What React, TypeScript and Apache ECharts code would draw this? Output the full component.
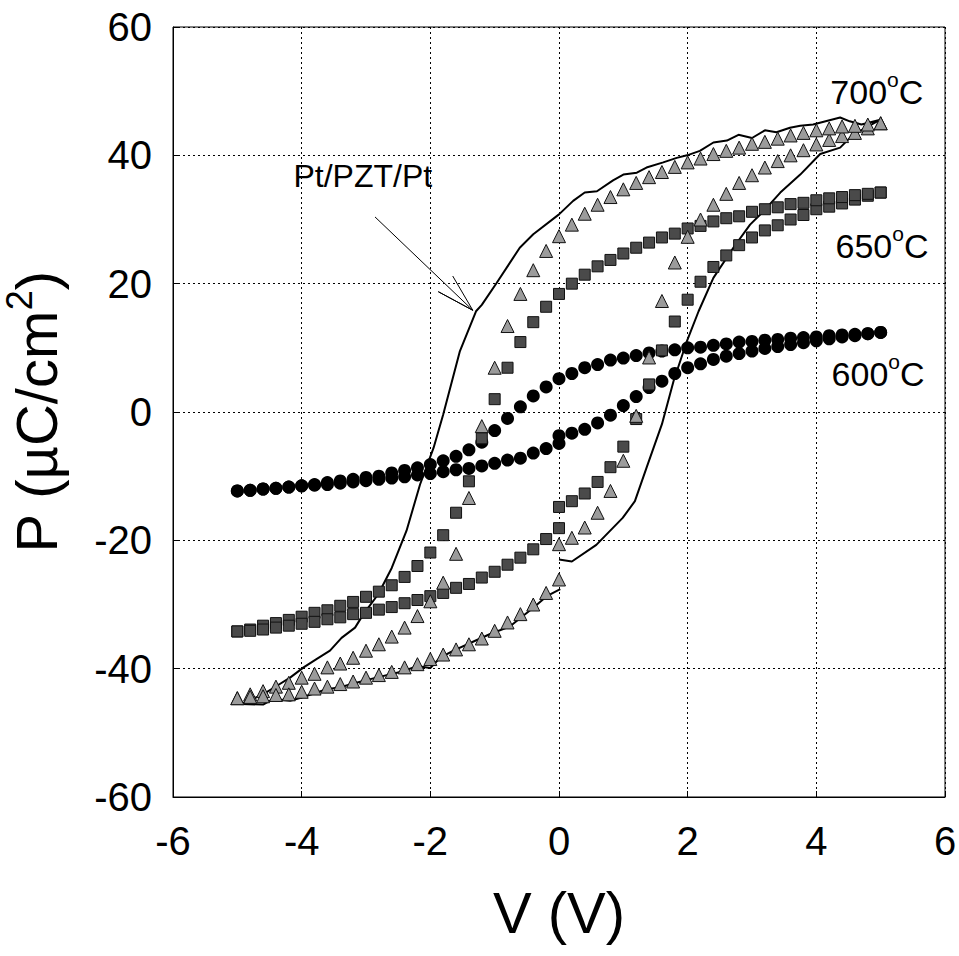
import React, { useEffect, useRef } from "react";
import * as echarts from "echarts";

// Voltage sweeps (V): 0 -> +5, +5 -> -5, -5 -> 0
const V_RISE = [0, 0.2, 0.4, 0.6, 0.8, 1.0, 1.2, 1.4, 1.6, 1.8, 2.0, 2.2, 2.4, 2.6, 2.8, 3.0, 3.2, 3.4, 3.6, 3.8, 4.0, 4.2, 4.4, 4.6, 4.8, 5.0];
const V_FALL = [5.0, 4.8, 4.6, 4.4, 4.2, 4.0, 3.8, 3.6, 3.4, 3.2, 3.0, 2.8, 2.6, 2.4, 2.2, 2.0, 1.8, 1.6, 1.4, 1.2, 1.0, 0.8, 0.6, 0.4, 0.2, 0,
  -0.2, -0.4, -0.6, -0.8, -1.0, -1.2, -1.4, -1.6, -1.8, -2.0, -2.2, -2.4, -2.6, -2.8, -3.0, -3.2, -3.4, -3.6, -3.8, -4.0, -4.2, -4.4, -4.6, -4.8, -5.0];
const V_RETURN = [-5.0, -4.8, -4.6, -4.4, -4.2, -4.0, -3.8, -3.6, -3.4, -3.2, -3.0, -2.8, -2.6, -2.4, -2.2, -2.0, -1.8, -1.6, -1.4, -1.2, -1.0, -0.8, -0.6, -0.4, -0.2, 0];

// 600 C (circles), P in uC/cm2
const P600_RISE = [-3.7, -3.3, -2.7, -1.7, -0.5, 1.0, 2.4, 3.8, 4.8, 6.0, 6.9, 7.5, 8.2, 8.7, 9.1, 9.5, 9.9, 10.2, 10.5, 10.8, 11.1, 11.4, 11.7, 11.9, 12.2, 12.4];
const P600_FALL = [12.4, 12.2, 12.1, 12.0, 11.9, 11.7, 11.6, 11.5, 11.3, 11.2, 11.0, 10.9, 10.6, 10.4, 10.1, 10.0, 9.7, 9.5, 9.2, 8.8, 8.4, 8.1, 7.4, 6.9, 6.0, 5.2,
  3.9, 2.5, 0.8, -1.0, -2.9, -4.7, -5.9, -6.9, -7.6, -8.2, -8.7, -9.1, -9.5, -10.0, -10.2, -10.5, -10.75, -11.0, -11.3, -11.5, -11.7, -11.9, -12.0, -12.2, -12.3];
const P600_RETURN = [-12.3, -12.2, -12.0, -11.9, -11.7, -11.5, -11.4, -11.3, -11.1, -10.9, -10.7, -10.5, -10.3, -10.1, -9.8, -9.6, -9.3, -9.0, -8.8, -8.4, -8.0, -7.5, -7.2, -6.4, -5.7, -4.9];

// 650 C (squares)
const P650_RISE = [-14.8, -13.9, -12.7, -10.9, -8.6, -5.4, -1.1, 4.3, 9.6, 14.1, 17.5, 20.3, 22.6, 24.4, 26.0, 27.2, 28.3, 29.1, 30.0, 30.7, 31.6, 32.0, 32.5, 33.1, 33.7, 34.2];
const P650_FALL = [34.2, 34.0, 33.8, 33.5, 33.3, 33.0, 32.6, 32.4, 31.9, 31.6, 31.2, 30.5, 30.2, 29.7, 29.0, 28.6, 27.8, 27.2, 26.4, 25.6, 24.7, 23.7, 22.7, 21.4, 20.0, 18.4,
  16.4, 14.0, 10.9, 6.9, 2.0, -4.1, -10.8, -15.7, -19.2, -21.9, -24.0, -25.7, -27.0, -28.0, -28.8, -29.6, -30.2, -30.9, -31.3, -31.9, -32.4, -32.9, -33.3, -33.9, -34.2];
const P650_RETURN = [-34.2, -34.1, -33.9, -33.6, -33.3, -33.0, -32.7, -32.3, -32.0, -31.5, -31.3, -30.8, -30.4, -29.8, -29.3, -28.7, -28.2, -27.4, -26.8, -25.8, -24.9, -23.8, -22.7, -21.4, -19.8, -18.1];

// 700 C (triangles)
const P700_RISE = [-20.6, -19.6, -18.0, -15.7, -12.3, -7.6, -0.6, 8.5, 17.3, 23.3, 27.3, 30.0, 32.3, 34.0, 35.7, 36.9, 38.1, 39.1, 40.0, 40.8, 41.7, 42.4, 43.0, 43.5, 44.2, 45.0];
const P700_FALL = [45.0, 44.8, 44.6, 44.5, 44.2, 43.9, 43.5, 43.1, 42.6, 42.1, 41.8, 41.2, 40.7, 40.2, 39.5, 38.9, 38.2, 37.4, 36.6, 35.7, 34.7, 33.5, 32.3, 30.9, 29.2, 27.4,
  25.1, 22.1, 18.4, 13.4, 6.9, -2.2, -13.4, -22.1, -26.6, -29.5, -31.8, -33.6, -35.0, -36.2, -37.2, -38.3, -39.2, -39.8, -40.8, -41.4, -42.2, -42.8, -43.5, -44.0, -44.6];
const P700_RETURN = [-44.6, -44.4, -44.3, -44.1, -44.0, -43.6, -43.1, -42.8, -42.4, -42.0, -41.4, -41.0, -40.5, -39.8, -39.3, -38.5, -37.8, -37.0, -36.2, -35.3, -34.1, -32.8, -31.5, -30.0, -28.2, -26.1];

// Pt/PZT/Pt loop (solid line): traced V and P in drawing order
const LOOP_V = [0, 0.2, 0.58, 0.99, 1.18, 1.36, 1.6, 1.78, 1.99, 2.17, 2.4, 2.71, 2.97, 3.18, 3.44, 3.75, 4.06, 4.37, 4.58, 4.73, 4.98,
  4.7, 4.52, 4.37, 3.95, 3.75, 3.59, 3.38, 3.2, 3.0, 2.79, 2.61, 2.4, 2.19, 1.99, 1.83, 1.62, 1.36, 1.21, 1.0, 0.84, 0.59, 0.4, 0.22, 0, -0.4, -0.61, -0.97, -1.2, -1.29, -1.54, -1.8,
  -1.95, -2.16, -2.37, -2.6, -2.81, -3.04, -3.17, -3.38, -3.56, -3.77, -3.97, -4.18, -4.39, -4.6, -4.8, -4.95,
  -4.6, -4.44, -4.18, -4.0, -3.61, -3.4, -3.15, -2.84, -2.42, -2.21, -2.0, -1.85, -1.64, -1.38, -1.07, -0.76, -0.4, -0.19, 0.02];
const LOOP_P = [-23.0, -23.3, -20.7, -16.5, -13.9, -8.7, -1.9, 4.8, 11.1, 15.7, 20.9, 25.6, 29.2, 31.3, 34.2, 37.0, 40.2, 41.2, 43.3, 44.1, 45.5,
  44.8, 45.3, 45.9, 44.8, 44.6, 44.3, 43.6, 43.9, 42.7, 43.2, 42.3, 42.0, 40.7, 40.0, 39.6, 38.9, 38.1, 37.3, 37.0, 36.1, 34.4, 34.2, 32.9, 30.8, 27.7, 25.6, 20.1, 16.7, 15.7, 9.5, -0.4,
  -5.6, -11.3, -18.5, -24.3, -28.4, -31.5, -33.6, -35.2, -37.2, -38.5, -39.8, -41.4, -42.7, -44.0, -44.9, -45.5,
  -45.6, -44.7, -45.0, -44.5, -43.2, -42.9, -42.2, -41.4, -40.4, -39.6, -39.9, -38.3, -37.2, -36.0, -34.6, -33.4, -30.5, -28.7, -27.6];

const X_TICKS = [-6, -4, -2, 0, 2, 4, 6];
const Y_TICKS = [-60, -40, -20, 0, 20, 40, 60];

// Annotation anchors (data coordinates)
const ARROW_V = [-2.86, -1.34, -1.876, -1.34, -1.652];
const ARROW_P = [30.4, 15.85, 18.75, 15.85, 21.19];
const NOTE_TEXT = "Pt/PZT/Pt";
const NOTE_POS = [-3.05, 36.8];
const TEMP_LABELS = ["700", "650", "600"];
const TEMP_POS = [[4.94, 50.3], [5.02, 26.3], [4.96, 6.4]];

const FONT = "'Liberation Sans', Arial, Helvetica, sans-serif";

function pairs(xs: number[], ys: number[]) {
  return xs.map((x, i) => [x, ys[i]]);
}

export default function App() {
  const ref = useRef<HTMLDivElement>(null);

  useEffect(() => {
    if (!ref.current) return;
    const chart = echarts.init(ref.current, null, { renderer: "svg" });

    const circleStyle = { color: "#000", borderColor: "#000", borderWidth: 0, opacity: 1 };
    const squareStyle = { color: "#4a4a4a", borderColor: "#111", borderWidth: 1, opacity: 1 };
    const triStyle = { color: "#9b9b9b", borderColor: "#111", borderWidth: 1, opacity: 1 };

    const scatter = (data: number[][], symbol: string, size: number, itemStyle: any) => ({
      type: "scatter",
      data,
      symbol,
      symbolSize: size,
      itemStyle,
      emphasis: { disabled: true },
      silent: true,
    });

    const tempLabelSeries = {
      type: "scatter",
      data: TEMP_POS.map((p, i) => ({
        value: p,
        label: {
          show: true,
          position: "inside",
          opacity: 1,
          formatter: `{a|${TEMP_LABELS[i]}}{s|o}{a|C}`,
          rich: {
            a: { fontSize: 34, fontFamily: FONT, color: "#000", lineHeight: 40, verticalAlign: "bottom" },
            s: { fontSize: 21, fontFamily: FONT, color: "#000", lineHeight: 40, verticalAlign: "top" },
          },
        },
      })),
      symbolSize: 1,
      itemStyle: { color: "transparent", opacity: 1 },
      emphasis: { disabled: true },
      silent: true,
      z: 5,
    };

    const noteSeries = {
      type: "scatter",
      data: [
        {
          value: NOTE_POS,
          label: {
            show: true,
            position: "inside",
            opacity: 1,
            formatter: NOTE_TEXT,
            fontSize: 32,
            fontFamily: FONT,
            color: "#000",
          },
        },
      ],
      symbolSize: 1,
      itemStyle: { color: "transparent", opacity: 1 },
      emphasis: { disabled: true },
      silent: true,
      z: 5,
    };

    chart.setOption({
      animation: false,
      backgroundColor: "#fff",
      grid: {
        left: 173,
        right: 14,
        top: 27,
        bottom: 159,
        show: true,
        borderColor: "#000",
        borderWidth: 1,
        backgroundColor: "transparent",
        containLabel: false,
        outerBoundsMode: "none",
      },
      xAxis: {
        type: "value",
        min: X_TICKS[0],
        max: X_TICKS[X_TICKS.length - 1],
        interval: 2,
        name: "V (V)",
        nameLocation: "middle",
        nameGap: 86,
        nameTextStyle: { fontSize: 58, fontFamily: FONT, color: "#000" },
        axisLine: { show: true, onZero: false, lineStyle: { color: "#000", width: 1 } },
        axisTick: { show: true, inside: true, length: 6, lineStyle: { color: "#000" } },
        axisLabel: { fontSize: 40, fontFamily: FONT, color: "#000", margin: 24 },
        splitLine: { show: true, lineStyle: { color: "#000", type: [2, 3], width: 1 } },
      },
      yAxis: {
        type: "value",
        min: Y_TICKS[0],
        max: Y_TICKS[Y_TICKS.length - 1],
        interval: 20,
        name: "{a|P (µC/cm}{s|2}{a|)}",
        nameLocation: "middle",
        nameRotate: 90,
        nameGap: 108,
        nameTextStyle: {
          fontFamily: FONT,
          color: "#000",
          rich: {
            a: { fontSize: 58, fontFamily: FONT, color: "#000", lineHeight: 64, verticalAlign: "bottom" },
            s: { fontSize: 36, fontFamily: FONT, color: "#000", lineHeight: 64, verticalAlign: "top" },
          },
        },
        axisLine: { show: true, onZero: false, lineStyle: { color: "#000", width: 1 } },
        axisTick: { show: true, inside: true, length: 6, lineStyle: { color: "#000" } },
        axisLabel: { fontSize: 40, fontFamily: FONT, color: "#000", margin: 21 },
        splitLine: { show: true, lineStyle: { color: "#000", type: [2, 3], width: 1 } },
      },
      series: [
        {
          type: "line",
          data: pairs(LOOP_V, LOOP_P),
          showSymbol: false,
          symbol: "none",
          lineStyle: { color: "#000", width: 2, opacity: 1 },
          silent: true,
          z: 2,
        },
        {
          type: "line",
          data: pairs(ARROW_V, ARROW_P),
          showSymbol: false,
          symbol: "none",
          lineStyle: { color: "#000", width: 1, opacity: 1 },
          silent: true,
          z: 2,
        },
        scatter(pairs(V_RISE, P600_RISE), "circle", 13, circleStyle),
        scatter(pairs(V_FALL, P600_FALL), "circle", 13, circleStyle),
        scatter(pairs(V_RETURN, P600_RETURN), "circle", 13, circleStyle),
        scatter(pairs(V_RISE, P650_RISE), "rect", 11, squareStyle),
        scatter(pairs(V_FALL, P650_FALL), "rect", 11, squareStyle),
        scatter(pairs(V_RETURN, P650_RETURN), "rect", 11, squareStyle),
        scatter(pairs(V_RISE, P700_RISE), "triangle", 13, triStyle),
        scatter(pairs(V_FALL, P700_FALL), "triangle", 13, triStyle),
        scatter(pairs(V_RETURN, P700_RETURN), "triangle", 13, triStyle),
        tempLabelSeries,
        noteSeries,
      ],
    });

    return () => chart.dispose();
  }, []);

  return (
    <div
      ref={ref}
      style={{ position: "absolute", left: 0, top: 0, width: 959, height: 956, background: "#fff" }}
    />
  );
}
